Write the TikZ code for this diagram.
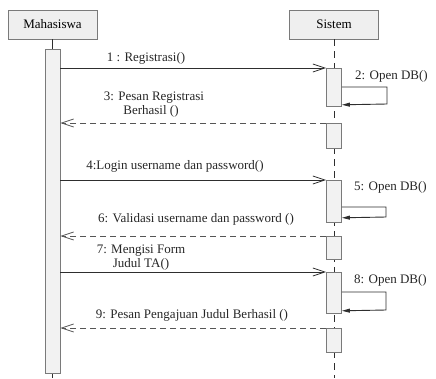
\documentclass[tikz,border=0pt]{standalone}
\usepackage{fontspec}
\setmainfont{Liberation Serif}
\usetikzlibrary{arrows.meta}
\definecolor{boxfill}{HTML}{EFEFEF}
\definecolor{boxline}{HTML}{7A7A7A}
\definecolor{barfill}{HTML}{F2F2F2}
\definecolor{lineclr}{HTML}{2E2E2E}
\definecolor{retclr}{HTML}{555555}
\tikzset{
  actor/.style={draw=boxline, fill=boxfill, minimum width=89pt, minimum height=29pt, inner sep=0pt, font=\fontsize{13}{14}\selectfont},
  actbar/.style={draw=boxline, fill=barfill, minimum width=15pt, inner sep=0pt, line width=0.8pt},
  callmsg/.style={draw=lineclr, line width=0.8pt, -{Straight Barb[length=12pt,width=8pt,line width=0.8pt]}},
  retmsg/.style={draw=retclr, line width=0.8pt, dash pattern=on 6pt off 4pt, -{Straight Barb[length=12pt,width=8pt,line width=0.8pt]}},
  selfmsg/.style={draw=lineclr, line width=0.9pt, -{Triangle[length=8pt,width=4pt]}},
  lbl/.style={font=\fontsize{13}{15}\selectfont, inner sep=0pt, align=center, text=black!85},
  lifeline/.style={draw=lineclr, line width=0.9pt},
}
\begin{document}
\begin{tikzpicture}[x=1pt,y=-1pt]
\useasboundingbox (0,0) rectangle (436,378);
% actors
\node[actor] (mah) at (52.5,24.5) {Mahasiswa};
\node[actor] (sis) at (334,24.5) {Sistem};
% lifelines
\coordinate (mahend) at (52.5,378);
\coordinate (sisend) at (334,378);
\draw[lifeline] (mah.south) -- (mahend);
\draw[lifeline, dash pattern=on 7pt off 5pt] (sis.south) -- (sisend);
% Mahasiswa activation
\node[actbar, minimum height=324pt, anchor=north] (mbar) at (52.5,49) {};
% Sistem activations
\node[actbar, minimum height=38pt, anchor=north] (a1) at (334,68) {};
\node[actbar, minimum height=25pt, anchor=north] (a2) at (334,123) {};
\node[actbar, minimum height=42pt, anchor=north] (a3) at (334,180) {};
\node[actbar, minimum height=23pt, anchor=north] (a4) at (334,236) {};
\node[actbar, minimum height=41pt, anchor=north] (a5) at (334,272) {};
\node[actbar, minimum height=24pt, anchor=north] (a6) at (334,328) {};
% message 1
\draw[callmsg] (a1.north west -| mbar.east) -- (a1.north west);
\node[lbl] (l1) at (146,58) {1 : Registrasi()};
% self message 2
\coordinate (s1a) at ([yshift=-19pt]a1.north east);
\coordinate (s1b) at (387,87);
\coordinate (s1c) at (387,104);
\coordinate (s1d) at ([yshift=2pt]a1.south east);
\draw[selfmsg] (s1a) -- (s1b) -- (s1c) -- (s1d);
\node[lbl, anchor=west] (l2) at (355,76) {2: Open DB()};
% message 3
\draw[retmsg] (a2.north west) -- (a2.north west -| mbar.east);
\node[lbl] (l3) at (154,105) {3: Pesan Registrasi\\[-1pt]\hspace*{-6pt}Berhasil ()};
% message 4
\draw[callmsg] (a3.north west -| mbar.east) -- (a3.north west);
\node[lbl] (l4) at (175,166) {4:Login username dan password()};
% self message 5
\coordinate (s2a) at ([yshift=-27pt]a3.north east);
\coordinate (s2b) at (386,207);
\coordinate (s2c) at (386,217);
\coordinate (s2d) at ([yshift=5pt]a3.south east);
\draw[selfmsg] (s2a) -- (s2b) -- (s2c) -- (s2d);
\node[lbl, anchor=west] (l5) at (354,187) {5: Open DB()};
% message 6
\draw[retmsg] (a4.north west) -- (a4.north west -| mbar.east);
\node[lbl] (l6) at (196,219) {6: Validasi username dan password ()};
% message 7
\draw[callmsg] (a5.north west -| mbar.east) -- (a5.north west);
\node[lbl] (l7) at (141,257.5) {7: Mengisi Form\\[-1pt]Judul TA()};
% self message 8
\coordinate (s3a) at ([yshift=-20pt]a5.north east);
\coordinate (s3b) at (386,292);
\coordinate (s3c) at (386,310);
\coordinate (s3d) at ([yshift=3pt]a5.south east);
\draw[selfmsg] (s3a) -- (s3b) -- (s3c) -- (s3d);
\node[lbl, anchor=west] (l8) at (354,280) {8: Open DB()};
% message 9
\draw[retmsg] (a6.north west) -- (a6.north west -| mbar.east);
\node[lbl] (l9) at (192,315) {9: Pesan Pengajuan Judul Berhasil ()};
\end{tikzpicture}
\end{document}
